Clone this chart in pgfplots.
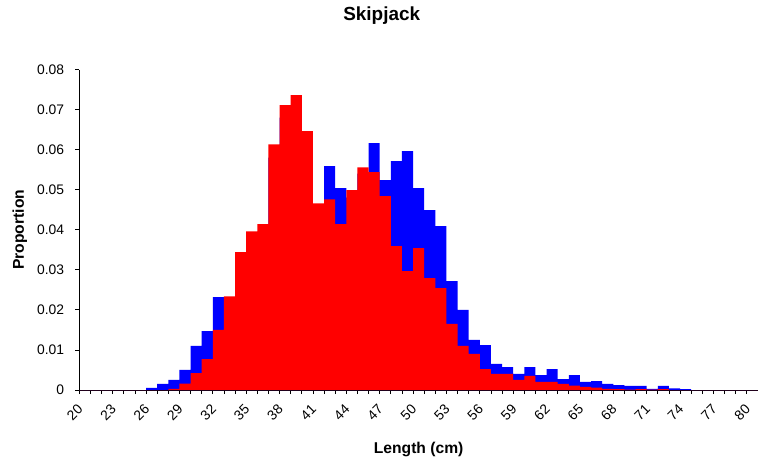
\documentclass[border=0pt]{standalone}
\usepackage{fontspec}
\setmainfont{Liberation Sans}
\usepackage{pgfplots}
\usepackage{pgfplotstable}
\pgfplotsset{compat=1.18}

\pgfplotstableread{
x blue red
20 0 0
21 0 0
22 0 0
23 0 0
24 0 0
25 0 0
26 0.0005 0
27 0.0015 0
28 0.0025 0.0003
29 0.0050 0.0016
30 0.0110 0.0042
31 0.0147 0.0077
32 0.0232 0.0150
33 0.0220 0.0234
34 0.0320 0.0344
35 0.0370 0.0396
36 0.0390 0.0414
37 0.0580 0.0613
38 0.0680 0.0711
39 0.0700 0.0736
40 0.0620 0.0646
41 0.0450 0.0466
42 0.0559 0.0476
43 0.0504 0.0414
44 0.0480 0.0499
45 0.0540 0.0556
46 0.0616 0.0544
47 0.0524 0.0484
48 0.0571 0.0359
49 0.0596 0.0297
50 0.0504 0.0354
51 0.0449 0.0279
52 0.0409 0.0254
53 0.0272 0.0165
54 0.0200 0.0110
55 0.0125 0.0090
56 0.0112 0.0052
57 0.0065 0.0040
58 0.0057 0.0040
59 0.0040 0.0025
60 0.0057 0.0035
61 0.0037 0.0020
62 0.0052 0.0020
63 0.0027 0.0015
64 0.0037 0.0011
65 0.0020 0.0008
66 0.0022 0.0006
67 0.0015 0.0003
68 0.0012 0.0002
69 0.0010 0.0001
70 0.0010 0.0002
71 0.0003 0.0001
72 0.0010 0.0002
73 0.0004 0
74 0.0002 0
75 0 0
76 0 0
77 0 0
78 0 0
79 0 0
80 0 0
}\datatable

\begin{document}
\begin{tikzpicture}
\begin{axis}[
  at={(0,0)}, anchor=south west,
  scale only axis,
  width=678.7bp, height=320.5bp,
  xmin=19.5, xmax=80.5,
  ymin=0, ymax=0.08,
  enlargelimits=false,
  scaled y ticks=false,
  axis x line*=bottom,
  axis y line*=left,
  axis line style={black, line width=0.8bp},
  tick style={black, line width=0.8bp},
  tick align=outside,
  major tick length=4bp,
  xtick={19.5,20.5,...,80.5},
  xticklabels={20,,,23,,,26,,,29,,,32,,,35,,,38,,,41,,,44,,,47,,,50,,,53,,,56,,,59,,,62,,,65,,,68,,,71,,,74,,,77,,,80,},
  xticklabel style={xshift=1bp, yshift=-13bp, rotate=45, anchor=east, inner sep=0pt},
  ytick={0,0.01,0.02,0.03,0.04,0.05,0.06,0.07,0.08},
  yticklabels={0,0.01,0.02,0.03,0.04,0.05,0.06,0.07,0.08},
  yticklabel style={anchor=east, inner sep=0pt, xshift=-11bp},
  tick label style={font=\fontsize{13.9}{16}\selectfont},
  /pgf/number format/assume math mode=true,
  xlabel={Length (cm)},
  ylabel={Proportion},
  label style={font=\bfseries\fontsize{15.7}{18}\selectfont},
  xlabel style={at={(axis description cs:0.5,-0.1988)}, anchor=base},
  ylabel style={at={(axis description cs:-0.0815,0.5)}, anchor=base},
  clip=false,
]
\addplot[ybar, bar width=1, bar shift=0pt, fill={rgb,255:red,0;green,0;blue,255}, draw=none] table[x=x, y=blue] {\datatable};
\addplot[ybar, bar width=1, bar shift=0pt, fill={rgb,255:red,255;green,0;blue,0}, draw=none] table[x=x, y=red] {\datatable};
\end{axis}
\path (current axis.south west) ++(302.4bp,369.3bp) node[anchor=base, inner sep=0pt, font=\bfseries\fontsize{19}{22}\selectfont] {Skipjack};
\pgfresetboundingbox
\path[use as bounding box] (current axis.south west) ++(-79.3bp,-71bp) rectangle ++(758bp,461bp);
\end{tikzpicture}
\end{document}
